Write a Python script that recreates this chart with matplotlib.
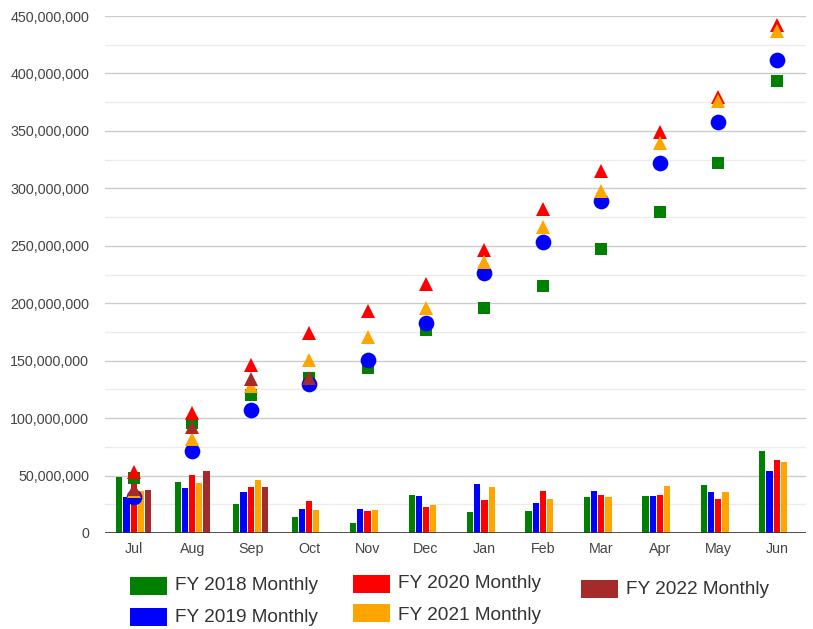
import numpy as np
import matplotlib
matplotlib.use("Agg")
import matplotlib.pyplot as plt
from matplotlib.patches import Rectangle
from matplotlib.ticker import FuncFormatter, MultipleLocator

plt.rcParams['font.family'] = ['Liberation Sans', 'DejaVu Sans']

months = ['Jul', 'Aug', 'Sep', 'Oct', 'Nov', 'Dec', 'Jan', 'Feb', 'Mar', 'Apr', 'May', 'Jun']
nan = np.nan

# Monthly values (millions)
fy2018_monthly = [48.6, 44.4, 25.0, 13.9, 8.7, 33.4, 18.3, 19.1, 31.3, 31.9, 41.8, 71.4]
fy2019_monthly = [31.0, 39.4, 35.4, 20.9, 20.9, 31.9, 42.6, 26.4, 36.3, 31.9, 35.4, 54.0]
fy2020_monthly = [53.0, 50.5, 40.0, 27.8, 19.1, 22.9, 28.7, 36.3, 32.8, 33.4, 29.3, 63.2]
fy2021_monthly = [36.5, 43.5, 45.8, 20.3, 20.3, 24.4, 40.0, 29.3, 31.3, 40.9, 35.4, 61.8]
fy2022_monthly = [37.4, 54.0, 40.0, nan, nan, nan, nan, nan, nan, nan, nan, nan]

fy2018_cum = [48.0, 95.7, 120.0, 134.6, 143.3, 176.7, 195.6, 215.0, 247.0, 279.4, 321.8, 393.7]
fy2019_cum = [31.0, 71.6, 107.0, 129.4, 150.6, 183.0, 226.6, 253.0, 289.3, 322.3, 357.5, 411.7]
fy2020_cum = [53.5, 104.7, 146.0, 174.3, 193.5, 216.7, 246.3, 282.0, 315.4, 349.3, 379.2, 442.0]
fy2021_cum = [36.5, 82.0, 128.0, 150.6, 170.9, 195.6, 236.1, 266.0, 298.0, 339.7, 376.0, 437.0]
fy2022_cum = [38.0, 92.5, 134.0, 134.5, nan, nan, nan, nan, nan, nan, nan, nan]

labels = ['FY 2018 Monthly', 'FY 2019 Monthly', 'FY 2020 Monthly', 'FY 2021 Monthly', 'FY 2022 Monthly']
colors = ['#008000', '#0000ff', '#ff0000', '#ffa500', '#a52a2a']
monthly = [fy2018_monthly, fy2019_monthly, fy2020_monthly, fy2021_monthly, fy2022_monthly]
cumulative = [fy2018_cum, fy2019_cum, fy2020_cum, fy2021_cum, fy2022_cum]
markers = [('s', 8.0), ('o', 11.3), ('^', 10.0), ('^', 10.0), ('^', 10.0)]

W, H = 813, 629
fig = plt.figure(figsize=(W / 100, H / 100), dpi=100)
x0, x1, ytop, ybot = 104.5, 806, 16, 533
ax = fig.add_axes([x0 / W, 1 - ybot / H, (x1 - x0) / W, (ybot - ytop) / H])

x = np.arange(len(months))
pitch = 0.123
bw = 0.106
for i, (vals, c) in enumerate(zip(monthly, colors)):
    v = np.array(vals, dtype=float) * 1e6
    ax.bar(x + (i - 2) * pitch, v, width=bw, color=c, zorder=2, linewidth=0)

for i, (vals, c, (m, ms)) in enumerate(zip(cumulative, colors, markers)):
    v = np.array(vals, dtype=float) * 1e6
    ax.plot(x, v, linestyle='none', marker=m, markersize=ms, color=c,
            markeredgewidth=0, zorder=4 + i)

ax.set_xlim(-0.5, 11.5)
ax.set_ylim(0, 450e6)
ax.yaxis.set_major_locator(MultipleLocator(50e6))
ax.yaxis.set_minor_locator(MultipleLocator(25e6))
ax.yaxis.set_major_formatter(FuncFormatter(lambda v, p: f"{int(round(v)):,}"))
ax.grid(axis='y', which='major', color='#cccccc', linewidth=1, zorder=0)
ax.grid(axis='y', which='minor', color='#ebebeb', linewidth=1, zorder=0)
ax.set_axisbelow(True)
ax.axhline(0, color='#333333', linewidth=1.2, zorder=10)
for s in ax.spines.values():
    s.set_visible(False)
ax.set_xticks(x)
ax.set_xticklabels(months)
ax.tick_params(axis='both', which='both', length=0, labelsize=10.3, colors='#444444')
ax.tick_params(axis='y', pad=11)
ax.tick_params(axis='x', pad=6.5)

# Legend (manual, column-major layout)
legend_pos = [
    (130, 577, 586),   # FY2018
    (130, 608, 618),   # FY2019
    (353, 575, 584),   # FY2020
    (353, 604, 615),   # FY2021
    (581, 580, 589),   # FY2022
]
for (lx, ly, ty), c, lab in zip(legend_pos, colors, labels):
    fig.patches.append(Rectangle((lx / W, 1 - (ly + 18) / H), 37 / W, 18 / H,
                                 transform=fig.transFigure, facecolor=c,
                                 edgecolor='none', figure=fig))
    fig.text((lx + 45) / W, 1 - ty / H, lab, fontsize=13.7, color='#333333',
             va='center', ha='left')

fig.savefig('out.png', dpi=100, facecolor='white')
